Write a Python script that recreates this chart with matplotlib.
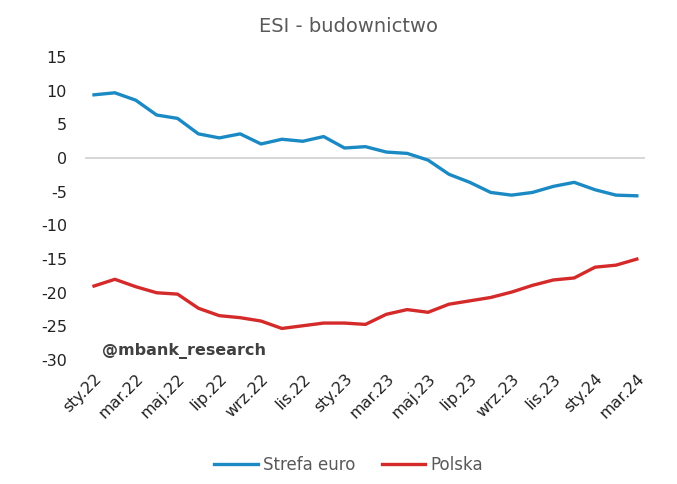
import numpy as np
import matplotlib.pyplot as plt

plt.rcParams['axes.unicode_minus'] = False

# ── Data ────────────────────────────────────────────────────
tick_labels = ["sty.22", "mar.22", "maj.22", "lip.22", "wrz.22", "lis.22", "sty.23",
               "mar.23", "maj.23", "lip.23", "wrz.23", "lis.23", "sty.24", "mar.24"]
strefa_euro = [9.4, 9.7, 8.6, 6.4, 5.9, 3.6, 3.0, 3.6, 2.1, 2.8, 2.5, 3.2, 1.5, 1.7,
               0.9, 0.7, -0.3, -2.4, -3.6, -5.1, -5.5, -5.1, -4.2, -3.6, -4.7, -5.5, -5.6]
polska = [-19.0, -18.0, -19.1, -20.0, -20.2, -22.3, -23.4, -23.7, -24.2, -25.3, -24.9,
          -24.5, -24.5, -24.7, -23.2, -22.5, -22.9, -21.7, -21.2, -20.7, -19.9, -18.9,
          -18.1, -17.8, -16.2, -15.9, -15.0]

x = np.arange(len(strefa_euro))

# ── Figure ──────────────────────────────────────────────────
fig = plt.figure(figsize=(6.77, 4.84), dpi=100)
ax = fig.add_axes([0.1256, 0.256, 0.8274, 0.626])

blue = '#1b8ac4'
red = '#d42a2a'
ax.plot(x, strefa_euro, color=blue, linewidth=2.4, label='Strefa euro')
ax.plot(x, polska, color=red, linewidth=2.4, label='Polska')
ax.axhline(0, color='#d0d0d0', linewidth=1.2, zorder=0)

ax.set_xlim(-0.43, 26.4)
ax.set_ylim(-30, 15)
ax.set_yticks(np.arange(-30, 16, 5))
ax.set_xticks(x[::2])
ax.set_xticklabels(tick_labels, rotation=45, ha='right', rotation_mode='anchor')
ax.tick_params(axis='both', length=0, labelsize=11.5, colors='#222222')
ax.tick_params(axis='y', pad=13)
ax.tick_params(axis='x', pad=8)
for s in ax.spines.values():
    s.set_visible(False)

fig.text(0.515, 0.945, "ESI - budownictwo", ha='center', va='center',
         fontsize=14, color='#595959')
ax.text(0.03, 0.005, "@mbank_research", transform=ax.transAxes, fontsize=11.5,
        fontweight='bold', color='#404040', ha='left', va='bottom')

fig.legend(loc='center', bbox_to_anchor=(0.515, 0.04), ncol=2, frameon=False,
           fontsize=12, labelcolor='#595959', handlelength=2.6, handletextpad=0.3,
           columnspacing=1.6)

fig.savefig("out.png", dpi=100)
